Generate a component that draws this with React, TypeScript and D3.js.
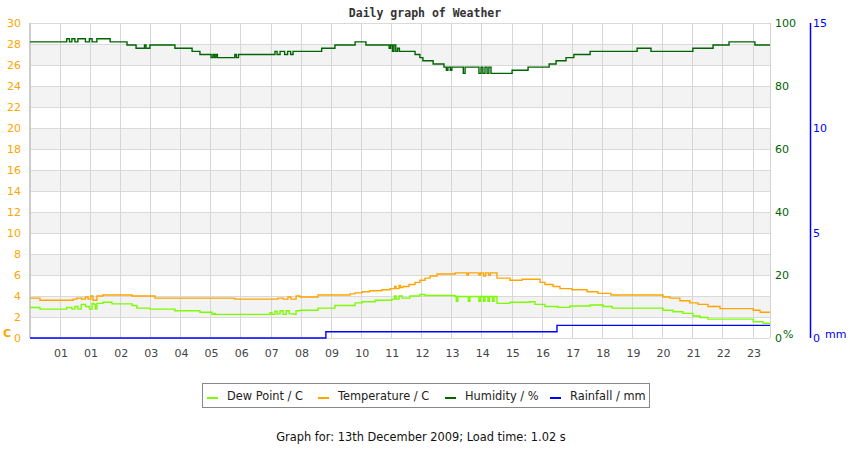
import React from 'react';
import * as d3 from 'd3';

// canvas + plot box
const W = 850;
const H = 450;
const M = { left: 30, right: 770, top: 23, bottom: 338 };

const hourLabels = ['01', '01', '02', '03', '04', '05', '06', '07', '08', '09', '10', '11',
    '12', '13', '14', '15', '16', '17', '18', '19', '20', '21', '22', '23'];
const tempTicks = d3.range(0, 31, 2);
const humidityTicks = [0, 20, 40, 60, 80, 100];
const rainTicks = [0, 5, 10, 15];

// [hour from left edge, value] step points
const dewPoint: [number, number][] = [
    [0, 2.9], [0.33, 2.75], [1.22, 2.9], [1.39, 2.75], [1.49, 3.0], [1.59, 2.75], [1.7, 3.2],
    [1.84, 3.0], [1.97, 2.75], [2.06, 3.3], [2.12, 3.2], [2.17, 2.75], [2.22, 3.3], [2.42, 3.4],
    [2.72, 3.25], [3.39, 3.1], [3.55, 2.85], [3.98, 2.75], [4.81, 2.6], [5.64, 2.45], [6.04, 2.25],
    [6.1, 2.35], [6.15, 2.25], [7.97, 2.4], [8.03, 2.25], [8.13, 2.55], [8.2, 2.3], [8.3, 2.6],
    [8.4, 2.25], [8.5, 2.6], [8.6, 2.3], [8.75, 2.25], [8.83, 2.6], [8.96, 2.65], [9.56, 2.85],
    [10.12, 3.1], [10.79, 3.35], [11.02, 3.45], [11.45, 3.6], [12.01, 3.7], [12.1, 4.0], [12.15, 3.7],
    [12.25, 4.0], [12.35, 3.8], [12.61, 4.0], [12.94, 4.15], [13.11, 4.05], [14.11, 3.95], [14.15, 3.5],
    [14.2, 3.95], [14.55, 3.5], [14.6, 3.95], [14.9, 3.5], [14.95, 3.95], [15.05, 3.5], [15.1, 3.95],
    [15.2, 3.5], [15.25, 3.95], [15.35, 3.5], [15.4, 3.95], [15.5, 3.3], [15.93, 3.4], [16.59, 3.45],
    [16.76, 3.2], [17.09, 3.0], [17.52, 2.92], [17.92, 3.05], [18.59, 3.15], [19.02, 3.0], [19.32, 2.85],
    [21.01, 2.65], [21.34, 2.5], [21.67, 2.35], [22.0, 2.1], [22.24, 1.95], [22.5, 1.8], [24.0, 1.55],
    [24.33, 1.4], [24.56, 1.4],
];

const temperature: [number, number][] = [
    [0, 3.8], [0.33, 3.6], [1.43, 3.7], [1.55, 3.8], [1.72, 3.7], [1.84, 3.9], [1.93, 3.7], [2.02, 4.0],
    [2.09, 3.6], [2.22, 4.0], [2.42, 4.1], [3.39, 4.0], [4.15, 3.8], [6.8, 3.7], [8.23, 3.8], [8.4, 3.7],
    [8.56, 3.9], [8.66, 3.7], [8.83, 4.0], [8.96, 3.9], [9.56, 4.1], [10.62, 4.2], [10.79, 4.3],
    [11.02, 4.4], [11.28, 4.5], [11.68, 4.6], [11.95, 4.7], [12.1, 4.9], [12.15, 4.7], [12.25, 5.0],
    [12.3, 4.8], [12.38, 4.9], [12.58, 5.1], [12.78, 5.3], [12.94, 5.5], [13.11, 5.7], [13.28, 5.9],
    [13.51, 6.1], [14.11, 6.2], [14.5, 6.0], [14.55, 6.2], [14.9, 6.0], [14.95, 6.2], [15.05, 5.9],
    [15.12, 6.2], [15.22, 6.0], [15.28, 6.2], [15.5, 5.7], [15.93, 5.5], [16.33, 5.6], [16.93, 5.3],
    [17.09, 5.1], [17.36, 4.9], [17.59, 4.7], [17.99, 4.6], [18.49, 4.4], [18.85, 4.25], [19.28, 4.1],
    [21.01, 3.9], [21.24, 3.8], [21.57, 3.55], [21.9, 3.35], [22.17, 3.2], [22.5, 3.0], [22.9, 2.8],
    [24.0, 2.65], [24.23, 2.45], [24.56, 2.45],
];

const humidity: [number, number][] = [
    [0, 94], [1.22, 95], [1.31, 94], [1.39, 95], [1.49, 94], [1.59, 95], [1.84, 94], [1.97, 95],
    [2.06, 94], [2.22, 95], [2.66, 94], [3.22, 93], [3.52, 92], [3.8, 93], [3.85, 92], [3.98, 93],
    [4.81, 92], [5.38, 91], [5.64, 90], [6.01, 89], [6.07, 90], [6.12, 89], [6.17, 90], [6.22, 89],
    [6.8, 90], [6.85, 89], [6.92, 90], [8.13, 91], [8.2, 90], [8.3, 91], [8.45, 90], [8.55, 91],
    [8.65, 90], [8.73, 91], [9.68, 92], [10.12, 93], [10.79, 94], [11.15, 93], [11.92, 92], [11.97, 93],
    [12.03, 91], [12.08, 93], [12.14, 91], [12.2, 92], [12.26, 91], [12.78, 90], [12.94, 89], [13.04, 88],
    [13.38, 87], [13.74, 86], [13.82, 85], [13.87, 86], [13.95, 85], [14.0, 86], [14.38, 84], [14.44, 86],
    [14.9, 84], [14.97, 86], [15.03, 84], [15.1, 86], [15.17, 84], [15.23, 86], [15.3, 84], [16.0, 85],
    [16.53, 86], [17.23, 87], [17.46, 88], [17.79, 89], [18.05, 90], [18.59, 91], [20.15, 92], [20.61, 91],
    [22.0, 92], [22.67, 93], [23.2, 94], [24.06, 93], [24.56, 93],
];

const rainfall: [number, number][] = [
    [0, 0], [9.82, 0.3], [17.49, 0.6], [24.56, 0.6],
];

const legendNames = ['Dew Point / C', 'Temperature / C', 'Humidity / %', 'Rainfall / mm'];
const colors = ['#7CFC00', '#FFA500', '#006400', '#0000FF'];
const LEGEND_X = [207, 318, 445, 550];

const FONT = '"DejaVu Sans", sans-serif';

export default function App() {
    const x = d3.scaleLinear().domain([0, 24.56]).range([M.left, M.right]);
    const yT = d3.scaleLinear().domain([0, 30]).range([M.bottom, M.top]);
    const yH = d3.scaleLinear().domain([0, 100]).range([M.bottom, M.top]);
    const yR = d3.scaleLinear().domain([0, 15]).range([M.bottom, M.top]);

    const mk = (y: d3.ScaleLinear<number, number>) =>
        d3.line<[number, number]>().x(d => x(d[0])).y(d => y(d[1])).curve(d3.curveStepAfter);

    const series = [
        { data: dewPoint, line: mk(yT) },
        { data: temperature, line: mk(yT) },
        { data: humidity, line: mk(yH) },
        { data: rainfall, line: mk(yR) },
    ];

    const bands = tempTicks.filter(v => v % 4 === 2 && v < 30);

    return (
        <div style={{ position: 'absolute', left: 0, top: 0 }}>
            <svg width={W} height={H} style={{ display: 'block', background: '#fff', fontFamily: FONT }}>
                <text x={425} y={17} textAnchor="middle" fontFamily='"DejaVu Sans Mono", monospace'
                    fontWeight="bold" fontSize={11.5} fill="#333">Daily graph of Weather</text>

                {/* stripes */}
                {bands.map(v => (
                    <rect key={v} x={M.left} y={yT(v + 2)} width={M.right - M.left}
                        height={yT(v) - yT(v + 2)} fill="#f3f3f3" />
                ))}
                <g shapeRendering="crispEdges">
                    {tempTicks.map(v => (
                        <line key={v} x1={M.left} x2={M.right} y1={yT(v)} y2={yT(v)} stroke="#dadada" />
                    ))}
                    {hourLabels.map((_, i) => (
                        <line key={i} x1={x(i + 1)} x2={x(i + 1)} y1={M.top} y2={M.bottom} stroke="#d6d6d6" />
                    ))}
                    <line x1={M.right} x2={M.right} y1={M.top} y2={M.bottom} stroke="#d3d3d3" />
                    <line x1={M.left} x2={M.left} y1={M.top} y2={M.bottom} stroke="#cccccc" strokeWidth={2} />
                </g>

                {series.map((s, i) => (
                    <path key={i} d={s.line(s.data) || ''} fill="none" stroke={colors[i]} strokeWidth={1.4} />
                ))}

                {/* left temp axis */}
                {tempTicks.map(v => (
                    <text key={v} x={21} y={yT(v)} dy="0.36em" textAnchor="end" fontSize={11} fill="#FFA500">{v}</text>
                ))}
                <text x={3} y={333} dy="0.36em" fontSize={11} fontWeight="bold" fill="#FFA500">C</text>

                {/* humidity axis */}
                {humidityTicks.map(v => (
                    <text key={v} x={775} y={yH(v)} dy="0.36em" fontSize={11} fill="#006400">{v}</text>
                ))}
                <text x={783} y={334} dy="0.36em" fontSize={11} fill="#006400">%</text>

                {/* rain axis */}
                <line x1={810.5} x2={810.5} y1={M.top} y2={M.bottom} stroke="#0000FF" strokeWidth={1.5} />
                {rainTicks.map(v => (
                    <text key={v} x={813} y={yR(v)} dy="0.36em" fontSize={11} fill="#0000FF">{v}</text>
                ))}
                <text x={825} y={334} dy="0.36em" fontSize={11} fill="#0000FF">mm</text>

                {/* hour ticks */}
                {hourLabels.map((l, i) => (
                    <text key={i} x={x(i + 1) + 0.8} y={357} textAnchor="middle" fontSize={11} fill="#444">{l}</text>
                ))}

                {/* legend */}
                <rect x={202.5} y={383.5} width={447} height={24} fill="#fff" stroke="#888" />
                {legendNames.map((n, i) => (
                    <g key={n}>
                        <line x1={LEGEND_X[i]} x2={LEGEND_X[i] + 11} y1={398} y2={398} stroke={colors[i]} strokeWidth={2} />
                        <text x={LEGEND_X[i] + 20} y={400} fontSize={11.4} fill="#222">{n}</text>
                    </g>
                ))}

                <text x={421} y={441} textAnchor="middle" fontSize={11.4} fill="#111">
                    Graph for: 13th December 2009; Load time: 1.02 s
                </text>
            </svg>
        </div>
    );
}
